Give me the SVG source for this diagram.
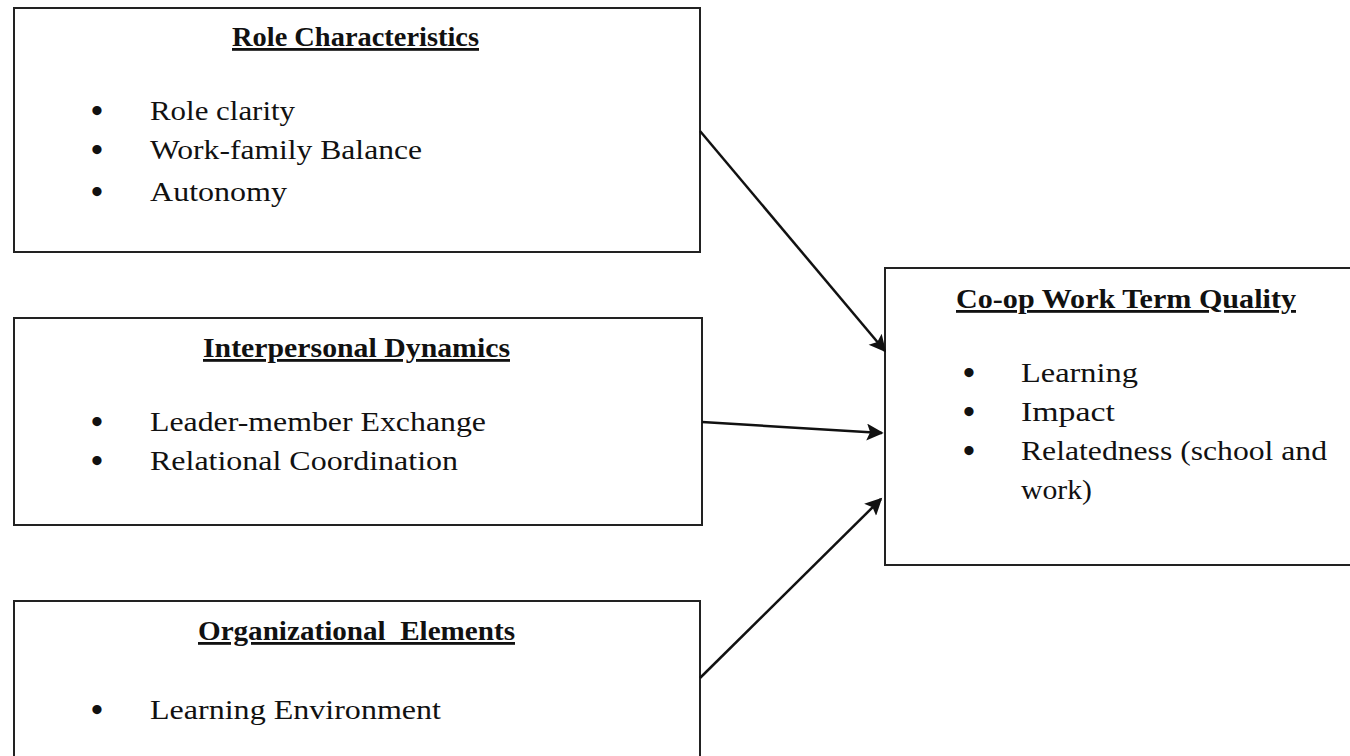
<svg xmlns="http://www.w3.org/2000/svg" width="1350" height="756" viewBox="0 0 1350 756">
<defs>
<style>
.box{fill:#fff;stroke:#222;stroke-width:2}
.t{font-family:"Liberation Serif","Times New Roman",serif;font-size:28px;fill:#111}
.h{font-weight:bold;text-decoration:underline}
.b{font-family:"Liberation Serif",serif;font-size:34px;font-weight:bold;fill:#111}
</style>
<marker id="ah2" viewBox="0 0 10 10" refX="9" refY="5" markerWidth="20" markerHeight="17" markerUnits="userSpaceOnUse" orient="auto">
<path d="M0,0 L10,5 L0,10 L2,5 z" fill="#111"/>
</marker>
</defs>
<rect width="1350" height="756" fill="#fff"/>
<g id="role">
<rect class="box" x="14" y="8" width="686" height="244"/>
<text class="t h" x="232" y="46" textLength="247" lengthAdjust="spacingAndGlyphs">Role Characteristics</text>
<text class="b" x="91" y="122">•</text><text class="t" x="150" y="120" textLength="145" lengthAdjust="spacingAndGlyphs">Role clarity</text>
<text class="b" x="91" y="161">•</text><text class="t" x="150" y="159" textLength="272" lengthAdjust="spacingAndGlyphs">Work-family Balance</text>
<text class="b" x="91" y="203">•</text><text class="t" x="150" y="201" textLength="137" lengthAdjust="spacingAndGlyphs">Autonomy</text>
</g>
<g id="interpersonal">
<rect class="box" x="14" y="318" width="688" height="207"/>
<text class="t h" x="203" y="357" textLength="307" lengthAdjust="spacingAndGlyphs">Interpersonal Dynamics</text>
<text class="b" x="91" y="433">•</text><text class="t" x="150" y="431" textLength="336" lengthAdjust="spacingAndGlyphs">Leader-member Exchange</text>
<text class="b" x="91" y="472">•</text><text class="t" x="150" y="470" textLength="308" lengthAdjust="spacingAndGlyphs">Relational Coordination</text>
</g>
<g id="organizational">
<rect class="box" x="14" y="601" width="686" height="170"/>
<text class="t h" x="198" y="640" textLength="317" lengthAdjust="spacingAndGlyphs" xml:space="preserve">Organizational  Elements</text>
<text class="b" x="91" y="721">•</text><text class="t" x="150" y="719" textLength="291" lengthAdjust="spacingAndGlyphs">Learning Environment</text>
</g>
<g id="quality">
<rect class="box" x="885" y="268" width="480" height="297"/>
<text class="t h" x="956" y="308" textLength="340" lengthAdjust="spacingAndGlyphs">Co-op Work Term Quality</text>
<text class="b" x="963" y="384">•</text><text class="t" x="1021" y="382" textLength="117" lengthAdjust="spacingAndGlyphs">Learning</text>
<text class="b" x="963" y="423">•</text><text class="t" x="1021" y="421" textLength="94" lengthAdjust="spacingAndGlyphs">Impact</text>
<text class="b" x="963" y="462">•</text><text class="t" x="1021" y="460" textLength="306" lengthAdjust="spacingAndGlyphs">Relatedness (school and</text>
<text class="t" x="1021" y="499" textLength="71" lengthAdjust="spacingAndGlyphs">work)</text>
</g>
<g id="connectors">
<line x1="700" y1="131" x2="885" y2="351" stroke="#111" stroke-width="2.5" marker-end="url(#ah2)"/>
<line x1="702" y1="422" x2="882" y2="433" stroke="#111" stroke-width="2.5" marker-end="url(#ah2)"/>
<line x1="700" y1="678" x2="881" y2="499" stroke="#111" stroke-width="2.5" marker-end="url(#ah2)"/>
</g>
</svg>
